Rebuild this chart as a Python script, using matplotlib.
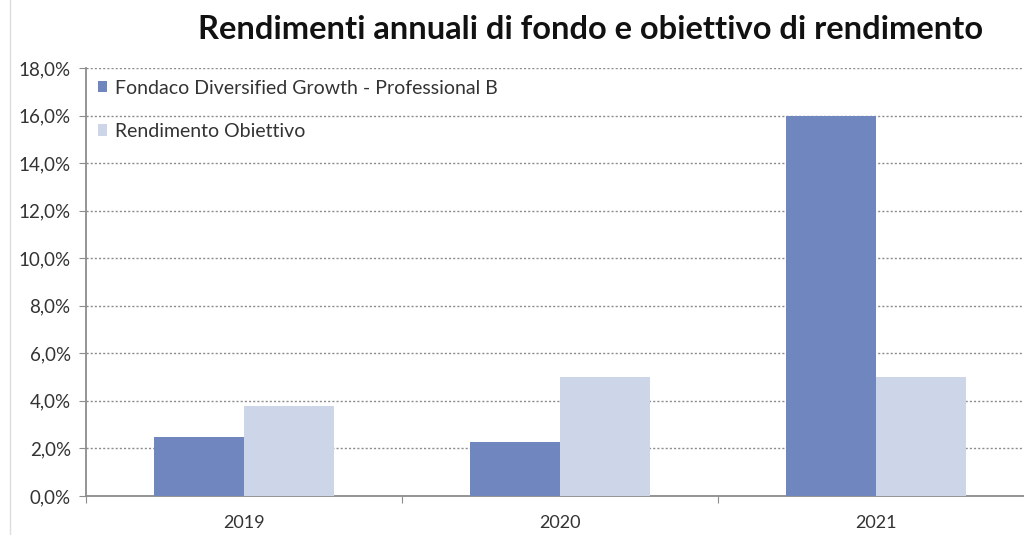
import matplotlib.pyplot as plt
from matplotlib.lines import Line2D
from matplotlib.ticker import FuncFormatter, FixedLocator
import numpy as np

years = ['2019', '2020', '2021']
fondo = [2.5, 2.25, 16.0]
obiettivo = [3.8, 5.0, 5.0]
labels = ['Fondaco Diversified Growth - Professional B', 'Rendimento Obiettivo']

plt.rcParams['font.family'] = ['Lato', 'DejaVu Sans']

fig = plt.figure(figsize=(10.24, 5.35), dpi=100)
ax = fig.add_axes([0.084, 0.073, 0.926, 0.80])

x = np.arange(len(years))
w = 0.285
ax.bar(x - w / 2, fondo, w, color='#6f86bf', label=labels[0], zorder=3)
ax.bar(x + w / 2, obiettivo, w, color='#cdd6e8', label=labels[1], zorder=3)

ax.set_ylim(0, 18)
ax.set_yticks(np.arange(0, 19, 2))
ax.yaxis.set_major_formatter(FuncFormatter(lambda v, p: ('%.1f%%' % v).replace('.', ',')))
ax.grid(axis='y', linestyle=(0, (1.5, 1.5)), color='#8c8c8c', linewidth=1, zorder=0)

ax.set_xlim(-0.5, 2.5)
ax.xaxis.set_major_locator(FixedLocator([-0.5, 0.5, 1.5, 2.5]))
ax.xaxis.set_major_formatter(FuncFormatter(lambda v, p: ''))
ax.xaxis.set_minor_locator(FixedLocator(x))
ax.set_xticklabels(years, minor=True)
ax.tick_params(axis='x', which='minor', length=0, pad=14, labelsize=13, labelcolor='#333333')
ax.tick_params(axis='x', which='major', length=5, color='#8c8c8c', direction='out')
ax.tick_params(axis='y', length=5, color='#8c8c8c', labelsize=13.5, labelcolor='#333333', pad=6)

for s in ['top', 'right']:
    ax.spines[s].set_visible(False)
for s in ['left', 'bottom']:
    ax.spines[s].set_color('#8c8c8c')
    ax.spines[s].set_linewidth(1.3)

ax.legend(loc='upper left', bbox_to_anchor=(0.0, 1.0), frameon=False, fontsize=14,
          handlelength=0.5, handleheight=0.5, handletextpad=0.4, labelspacing=1.35,
          borderaxespad=0.2, labelcolor='#333333')

fig.text(0.577, 0.945, 'Rendimenti annuali di fondo e obiettivo di rendimento',
         ha='center', va='center', fontsize=23.5, fontweight='bold', color='#111111')

fig.add_artist(Line2D([0.0098, 0.0098], [0, 1], color='#dddddd', linewidth=1, transform=fig.transFigure))

fig.savefig('out.png', dpi=100)
